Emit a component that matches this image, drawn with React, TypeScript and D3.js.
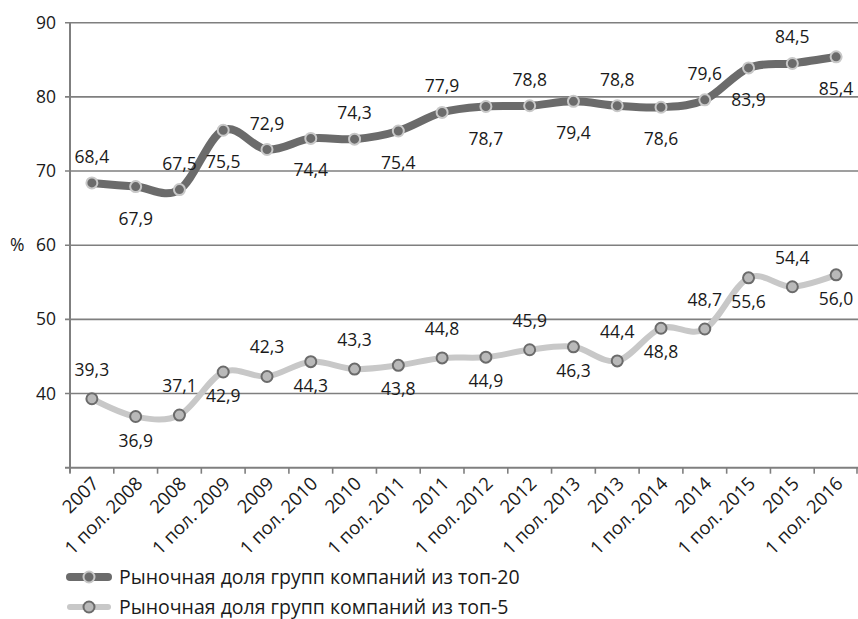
import React from "react";
import * as d3 from "d3";

const W = 858, H = 619;
const M = { left: 70, right: 0, top: 22.7, bottom: 151.3 };
const FONT = "'Open Sans', sans-serif";

const periods = [
  "2007", "1 пол. 2008", "2008", "1 пол. 2009", "2009", "1 пол. 2010",
  "2010", "1 пол. 2011", "2011", "1 пол. 2012", "2012", "1 пол. 2013",
  "2013", "1 пол. 2014", "2014", "1 пол. 2015", "2015", "1 пол. 2016",
];
const top20 = [68.4, 67.9, 67.5, 75.5, 72.9, 74.4, 74.3, 75.4, 77.9, 78.7, 78.8, 79.4, 78.8, 78.6, 79.6, 83.9, 84.5, 85.4];
const top5 = [39.3, 36.9, 37.1, 42.9, 42.3, 44.3, 43.3, 43.8, 44.8, 44.9, 45.9, 46.3, 44.4, 48.8, 48.7, 55.6, 54.4, 56.0];
const yTicks = [40, 50, 60, 70, 80, 90];
const legendNames = [
  "Рыночная доля групп компаний из топ-20",
  "Рыночная доля групп компаний из топ-5",
];

const DARK = "#6b6b6b", LIGHT = "#c8c8c8", MID = "#b9b9b9";

export default function App() {
  const x = d3.scaleBand<string>().domain(periods).range([M.left, W - M.right]);
  const y = d3.scaleLinear().domain([30, 90]).range([H - M.bottom, M.top]);
  const cx = (p: string) => x(p)! + x.bandwidth() / 2;
  const line = d3.line<number>()
    .x((_, i) => cx(periods[i]))
    .y((d) => y(d))
    .curve(d3.curveCardinal.tension(0));

  const fmt = (v: number) => v.toFixed(1).replace(".", ",");
  const series = [
    { vals: top20, stroke: DARK, width: 8, fill: DARK, ring: LIGHT, up: -26, down: 32 },
    { vals: top5, stroke: LIGHT, width: 6, fill: MID, ring: DARK, up: -29, down: 24 },
  ];
  const y0 = y(30);

  return (
    <div style={{ position: "absolute", left: 0, top: 0 }}>
      <svg width={W} height={H} style={{ display: "block", background: "#fff" }} fontFamily={FONT}>
        {/* grid + y labels */}
        {yTicks.map((t) => (
          <g key={t}>
            <line x1={M.left - 5} x2={W} y1={y(t)} y2={y(t)} stroke="#7f7f7f" strokeWidth={1.6} />
            <text x={56} y={y(t) + 6} textAnchor="end" fontSize={17.5} fill="#1a1a1a">{t}</text>
          </g>
        ))}
        <text x={10} y={y(60) + 6} fontSize={17.5} fill="#1a1a1a">%</text>

        {/* axes */}
        <line x1={M.left} x2={M.left} y1={M.top} y2={y0 + 5} stroke="#7f7f7f" strokeWidth={2} />
        <line x1={M.left - 5} x2={W} y1={y0} y2={y0} stroke="#7f7f7f" strokeWidth={2} />
        {periods.map((p, i) => (
          <g key={i}>
            <line x1={x(p)!} x2={x(p)!} y1={y0} y2={y0 + 6} stroke="#7f7f7f" strokeWidth={1.6} />
            <text transform={`translate(${cx(p) + 8},${y0 + 17}) rotate(-45)`} textAnchor="end"
              fontSize={18.5} fill="#1a1a1a">{p}</text>
          </g>
        ))}
        <line x1={W - 1} x2={W - 1} y1={y0} y2={y0 + 6} stroke="#7f7f7f" strokeWidth={1.6} />

        {/* series */}
        {series.map((s, k) => (
          <g key={k}>
            <path d={line(s.vals)!} fill="none" stroke={s.stroke} strokeWidth={s.width} strokeLinecap="round" />
            {s.vals.map((v, i) => (
              <circle key={i} cx={cx(periods[i])} cy={y(v)} r={5.5} fill={s.fill} stroke={s.ring} strokeWidth={2} />
            ))}
            {s.vals.map((v, i) => (
              <text key={"t" + i} x={cx(periods[i])} y={y(v) + (i % 2 === 0 ? s.up : s.down) + 6}
                textAnchor="middle" fontSize={17.5} fill="#1a1a1a">{fmt(v)}</text>
            ))}
          </g>
        ))}

        {/* legend */}
        {series.map((s, k) => {
          const ly = 577 + k * 30;
          return (
            <g key={k}>
              <line x1={70} x2={108} y1={ly} y2={ly} stroke={s.stroke} strokeWidth={s.width} strokeLinecap="round" />
              <circle cx={89} cy={ly} r={5.5} fill={s.fill} stroke={s.ring} strokeWidth={2} />
              <text x={119} y={ly + 7} fontSize={19.5} fill="#1a1a1a">{legendNames[k]}</text>
            </g>
          );
        })}
      </svg>
    </div>
  );
}
